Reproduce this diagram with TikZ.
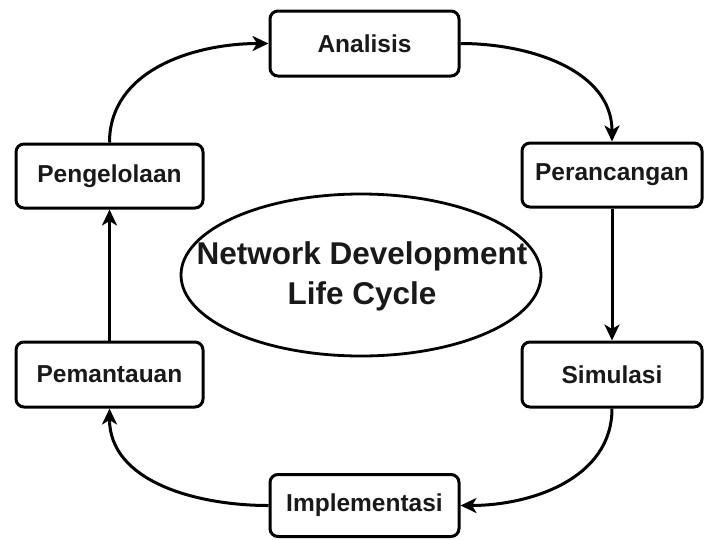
\documentclass[tikz,border=0pt]{standalone}
\usepackage{fontspec}
\setmainfont{Liberation Sans}
\usetikzlibrary{arrows.meta,shapes.geometric}
\begin{document}
\begin{tikzpicture}[x=1pt,y=-1pt,
  stagebox/.style={draw, line width=3pt, rounded corners=8pt, inner sep=0pt,
    font=\fontsize{24.5}{28}\selectfont\bfseries, text=black!90},
  flow/.style={line width=3pt, -{Stealth[length=16pt,width=15pt,inset=4.5pt]}},
  cycleshape/.style={draw, ellipse, line width=2.8pt, inner sep=0pt,
    minimum width=360pt, minimum height=162pt},
  cycletext/.style={align=center, inner sep=0pt,
    font=\fontsize{31.5}{40}\selectfont\bfseries, text=black!90}
]
\useasboundingbox (0,0) rectangle (704,539);
\node[stagebox, minimum width=189pt, minimum height=65pt] (ana) at (364.5,43.5) {Analisis};
\node[stagebox, minimum width=180pt, minimum height=64pt] (per) at (612,175) {Perancangan};
\node[stagebox, minimum width=180pt, minimum height=65pt] (sim) at (612,374.5) {Simulasi};
\node[stagebox, minimum width=189pt, minimum height=62pt] (imp) at (364.5,505.5) {Implementasi};
\node[stagebox, minimum width=187pt, minimum height=65pt] (pem) at (109.5,374.5) {Pemantauan};
\node[stagebox, minimum width=187pt, minimum height=64pt] (pen) at (109.5,176) {Pengelolaan};
\node[cycleshape] (nd) at (361,275) {};
\node[cycletext] (ndtext) at (362,276) {Network Development\\Life Cycle};
\draw[flow] (pen.north) to[out=90,in=180] (ana.west);
\draw[flow] (ana.east) to[out=0,in=90] (per.north);
\draw[flow] (per.south) -- (sim.north);
\draw[flow] (sim.south) to[out=-90,in=0] (imp.east);
\draw[flow] (imp.west) to[out=180,in=-90] (pem.south);
\draw[flow] (pem.north) -- (pen.south);
\end{tikzpicture}
\end{document}
